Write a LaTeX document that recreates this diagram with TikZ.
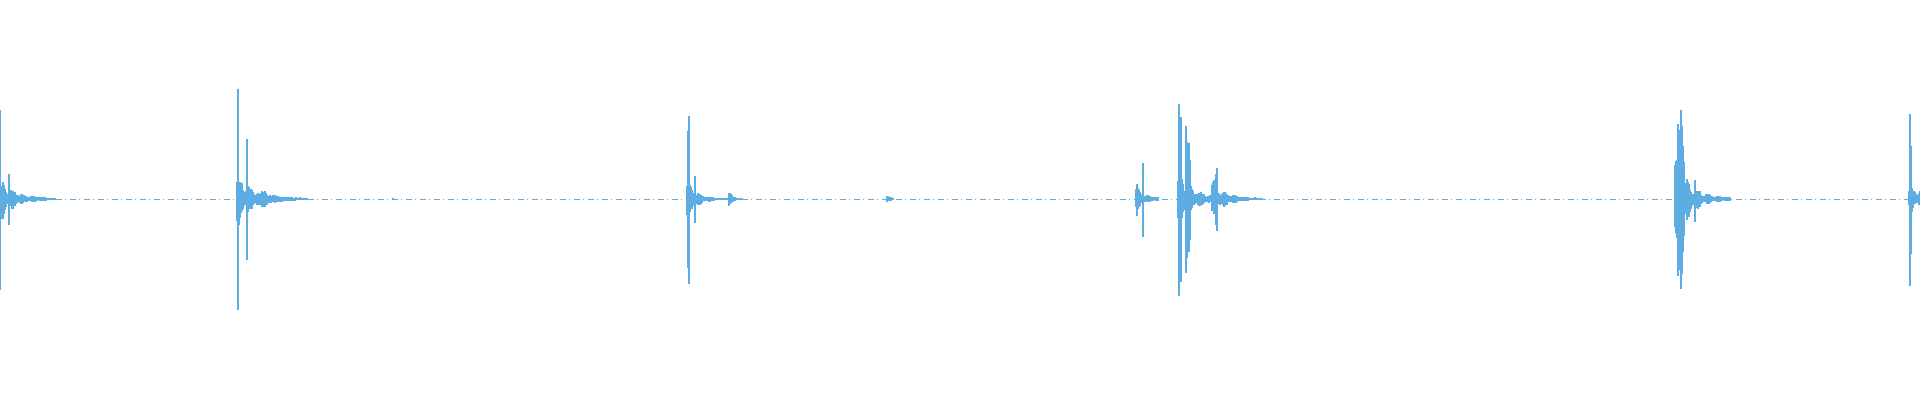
\documentclass[tikz,border=0pt]{standalone}
\begin{document}
\definecolor{wave}{RGB}{93,173,226}
\tikzset{w/.style={draw=wave,line width=1.3pt},sp/.style={draw=wave,line width=1.2pt},base/.style={draw=wave,line width=0.7pt,dash pattern=on 6pt off 3pt on 1pt off 4pt}}
\newcommand{\myburst}[4]{% x0, amp, decay, len
  \foreach \i in {0,...,#4}{
    \pgfmathsetmacro{\a}{#2*exp(-\i/#3)*(0.55+0.45*rnd)*(0.7+0.3*sin(\i*35))+1}
    \pgfmathsetmacro{\b}{#2*exp(-\i/#3)*(0.55+0.45*rnd)*(0.7+0.3*sin(\i*35))+1}
    \draw[w] (#1+\i,201+\a) -- (#1+\i,201-\b);
  }}
\newcommand{\spike}[3]{\draw[sp] (#1,400-#2) -- (#1,400-#3);}
\begin{tikzpicture}[x=1pt,y=1pt]
\pgfmathsetseed{7}
\useasboundingbox (0,0) rectangle (1920,400);
\coordinate (l) at (0,201); \coordinate (r) at (1920,201);
\draw[base] (l) -- (r);
% burst 1
\myburst{0}{24}{14}{55}
\spike{0.7}{110}{290}
\spike{9}{174}{225}
% burst 2
\myburst{237}{30}{16}{70}
\spike{238}{89}{310}
\spike{247}{139}{260}
\myburst{262}{10}{12}{40}
\draw[w] (392,201) -- (394,201);
% burst 3
\myburst{687}{22}{9}{55}
\spike{689}{116}{284}
\spike{688}{131}{268}
\spike{695}{176}{223}
\myburst{729}{9}{3}{8}
\myburst{887}{3}{3}{6}
% burst 4
\myburst{1136}{14}{8}{22}
\spike{1137}{184}{216}
\spike{1143}{163}{237}
\myburst{1178}{36}{14}{32}
\spike{1179}{104}{296}
\spike{1181}{117}{282}
\spike{1186}{126}{273}
\spike{1187}{142}{258}
\spike{1189}{143}{252}
\spike{1190}{160}{240}
\myburst{1212}{22}{12}{50}
\spike{1216}{174}{225}
\spike{1217}{168}{231}
% burst 5
\myburst{1675}{50}{14}{55}
\spike{1677}{172}{226}
\spike{1678}{124}{276}
\spike{1679}{130}{270}
\spike{1680}{145}{260}
\spike{1681}{110}{289}
\spike{1682}{126}{274}
\spike{1683}{146}{252}
\spike{1684}{162}{236}
\spike{1695}{180}{222}
% burst 6
\myburst{1909}{14}{20}{11}
\spike{1910}{114}{286}
\spike{1911}{146}{254}
\end{tikzpicture}
\end{document}
